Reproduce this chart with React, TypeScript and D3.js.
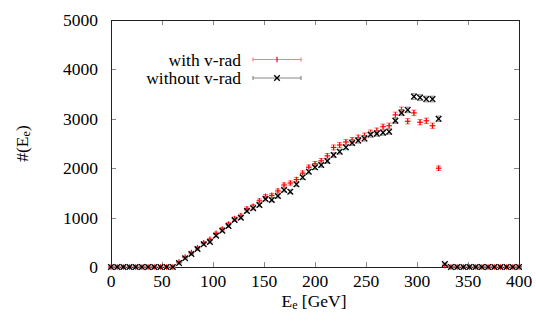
import React from "react";
import * as d3 from "d3";

const energies = [
  0, 6.1, 12.1, 18.2, 24.2, 30.3, 36.4, 42.4, 48.5, 54.5, 60.6, 66.7, 72.7, 78.8, 84.8, 90.9,
  97.0, 103.0, 109.1, 115.2, 121.2, 127.3, 133.3, 139.4, 145.5, 151.5, 157.6, 163.6, 169.7,
  175.8, 181.8, 187.9, 193.9, 200.0, 206.1, 212.1, 218.2, 224.2, 230.3, 236.4, 242.4, 248.5,
  254.5, 260.6, 266.7, 272.7, 278.8, 284.8, 290.9, 297.0, 303.0, 309.1, 315.2, 321.2, 327.3,
  333.3, 339.4, 345.5, 351.5, 357.6, 363.6, 369.7, 375.8, 381.8, 387.9, 393.9, 400.0,
];

const withoutRad = [
  0, 0, 0, 0, 0, 0, 0, 0, 0, 0, 0,
  80, 176, 263, 364, 459, 506, 634, 735, 830, 951, 998, 1134, 1190, 1255, 1376, 1356, 1437,
  1559, 1525, 1673, 1815, 1930, 2018, 2065, 2146, 2267, 2334, 2423, 2510, 2560, 2600, 2680,
  2700, 2720, 2740, 2960, 3120, 3180, 3450, 3430, 3400, 3400, 3000, 60,
  0, 0, 0, 0, 0, 0, 0, 0, 0, 0, 0, 0,
];

const withRad = [
  0, 0, 0, 0, 0, 0, 0, 0, 0, 0, 0,
  100, 200, 290, 390, 490, 560, 680, 770, 870, 980, 1040, 1180, 1230, 1340, 1430, 1450, 1540,
  1660, 1700, 1770, 1900, 2020, 2090, 2150, 2250, 2420, 2470, 2530, 2570, 2620, 2660, 2720,
  2760, 2840, 2860, 3080, 3180, 2950, 3120, 2930, 2960, 2860, 2000, 30,
  0, 0, 0, 0, 0, 0, 0, 0, 0, 0, 0, 0,
];

const xTicks = [0, 50, 100, 150, 200, 250, 300, 350, 400];
const yTicks = [0, 1000, 2000, 3000, 4000, 5000];

const W = 536;
const H = 323;
const L = 111, R = 519, T = 20, B = 267;
const fs = { fontFamily: "Liberation Serif" };
const FS = 17.5;

export default function App() {
  const x = d3.scaleLinear().domain([0, 400]).range([L, R]);
  const y = d3.scaleLinear().domain([0, 5000]).range([B, T]);
  const tk = 5;
  const cap = 2.5;
  const ms = 2.8;

  const errBar = (cx: number, v: number, color: string, key: string) => {
    const e = Math.sqrt(v);
    const y1 = y(v + e), y2 = y(v - e);
    return (
      <g key={key} stroke={color} strokeWidth={1}>
        <line x1={cx} x2={cx} y1={y1} y2={y2} />
        <line x1={cx - cap} x2={cx + cap} y1={y1} y2={y1} />
        <line x1={cx - cap} x2={cx + cap} y1={y2} y2={y2} />
      </g>
    );
  };

  return (
    <svg width={W} height={H} style={{ position: "absolute", left: 0, top: 0, background: "#fff" }}>
      {xTicks.map((t) => (
        <g key={"xt" + t} stroke="#888" strokeWidth={1}>
          <line x1={Math.round(x(t)) + 0.5} x2={Math.round(x(t)) + 0.5} y1={B} y2={B - tk} />
          <line x1={Math.round(x(t)) + 0.5} x2={Math.round(x(t)) + 0.5} y1={T} y2={T + tk} />
        </g>
      ))}
      {yTicks.map((t) => (
        <g key={"yt" + t} stroke="#888" strokeWidth={1}>
          <line x1={L} x2={L + tk} y1={Math.round(y(t)) + 0.5} y2={Math.round(y(t)) + 0.5} />
          <line x1={R} x2={R - tk} y1={Math.round(y(t)) + 0.5} y2={Math.round(y(t)) + 0.5} />
        </g>
      ))}
      <rect x={L + 0.5} y={T + 0.5} width={R - L} height={B - T} fill="none" stroke="#222" strokeWidth={1} />

      {xTicks.map((t) => (
        <text key={"xl" + t} x={x(t)} y={281} fontSize={FS} style={fs} textAnchor="middle" dominantBaseline="central" fill="#000">
          {t}
        </text>
      ))}
      {yTicks.map((t) => (
        <text key={"yl" + t} x={98} y={y(t)} fontSize={FS} style={fs} textAnchor="end" dominantBaseline="central" fill="#000">
          {t}
        </text>
      ))}

      <text x={314} y={301} fontSize={FS} style={fs} textAnchor="middle" dominantBaseline="central" fill="#000">
        E<tspan fontSize={12} dy={4}>e</tspan><tspan dy={-4}> [GeV]</tspan>
      </text>
      <text transform={`translate(22,${(T + B) / 2}) rotate(-90)`} fontSize={FS} style={fs} textAnchor="middle" dominantBaseline="central" fill="#000">
        #(E<tspan fontSize={12} dy={4}>e</tspan><tspan dy={-4}>)</tspan>
      </text>

      {energies.map((e, i) => errBar(x(e), withRad[i], "#ff7070", "re" + i))}
      {energies.map((e, i) => (
        <g key={"rp" + i} stroke="#ff0000" strokeWidth={1.2}>
          <line x1={x(e) - ms} x2={x(e) + ms} y1={y(withRad[i])} y2={y(withRad[i])} />
          <line x1={x(e)} x2={x(e)} y1={y(withRad[i]) - ms} y2={y(withRad[i]) + ms} />
        </g>
      ))}

      {energies.map((e, i) => errBar(x(e), withoutRad[i], "#999", "be" + i))}
      {energies.map((e, i) => (
        <g key={"bp" + i} stroke="#000" strokeWidth={1.3}>
          <line x1={x(e) - ms} x2={x(e) + ms} y1={y(withoutRad[i]) - ms} y2={y(withoutRad[i]) + ms} />
          <line x1={x(e) - ms} x2={x(e) + ms} y1={y(withoutRad[i]) + ms} y2={y(withoutRad[i]) - ms} />
        </g>
      ))}

      <text x={241} y={59.5} fontSize={FS} style={fs} textAnchor="end" dominantBaseline="central" fill="#000">with v-rad</text>
      <g stroke="#ff8080" strokeWidth={1.2}>
        <line x1={253} x2={301} y1={59.5} y2={59.5} />
        <line x1={253} x2={253} y1={57.5} y2={61.5} />
        <line x1={301} x2={301} y1={57.5} y2={61.5} />
      </g>
      <g stroke="#ff0000" strokeWidth={1.2}>
        <line x1={277} x2={277} y1={59.5 - ms} y2={59.5 + ms} />
      </g>
      <text x={241} y={78} fontSize={FS} style={fs} textAnchor="end" dominantBaseline="central" fill="#000">without v-rad</text>
      <g stroke="#888" strokeWidth={1.2}>
        <line x1={253} x2={301} y1={78} y2={78} />
        <line x1={253} x2={253} y1={76} y2={80} />
        <line x1={301} x2={301} y1={76} y2={80} />
      </g>
      <g stroke="#000" strokeWidth={1.3}>
        <line x1={277 - ms} x2={277 + ms} y1={78 - ms} y2={78 + ms} />
        <line x1={277 - ms} x2={277 + ms} y1={78 + ms} y2={78 - ms} />
      </g>
    </svg>
  );
}
